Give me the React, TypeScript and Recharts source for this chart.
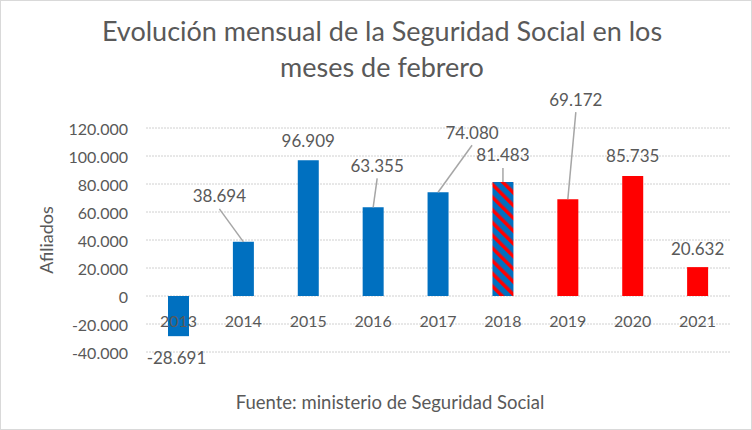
import { BarChart, Bar, Cell, XAxis, YAxis, CartesianGrid, LabelList } from 'recharts';

const years = ['2013', '2014', '2015', '2016', '2017', '2018', '2019', '2020', '2021'];
const afiliados = [-28691, 38694, 96909, 63355, 74080, 81483, 69172, 85735, 20632];
const yTicks = [-40000, -20000, 0, 20000, 40000, 60000, 80000, 100000, 120000];

const data = years.map((year, i) => ({ year, afiliados: afiliados[i] }));

const BLUE = '#0070C0';
const RED = '#FF0000';
const TEXT = '#595959';
const FONT = 'Lato, "Open Sans", sans-serif';

// colores de cada barra (2018 lleva rayado)
const barFills = [BLUE, BLUE, BLUE, BLUE, BLUE, 'url(#rayas2018)', RED, RED, RED];

// posicion de las etiquetas respecto al extremo de la barra
const labelPos = [
  { dx: -2, dy: 21, line: false },
  { dx: -24, dy: -46, line: true },
  { dx: 0, dy: -20, line: false },
  { dx: 4, dy: -42, line: true },
  { dx: 34, dy: -60, line: true },
  { dx: 0, dy: -27, line: true },
  { dx: 8, dy: -100, line: true },
  { dx: 0, dy: -20, line: false },
  { dx: 0, dy: -19, line: false },
];

const fmt = (v: number) => {
  const s = String(Math.abs(v)).replace(/\B(?=(\d{3})+(?!\d))/g, '.');
  return v < 0 ? '-' + s : s;
};

const renderLabel = (props: any) => {
  const { x, y, width, height, value, index } = props;
  const pos = labelPos[index];
  const cx = Number(x) + Number(width) / 2;
  const y1 = Number(y);
  const y2 = Number(y) + Number(height);
  const end = value >= 0 ? Math.min(y1, y2) : Math.max(y1, y2);
  const lx = cx + pos.dx;
  const ly = end + pos.dy;
  return (
    <g key={'lbl' + index}>
      {pos.line && (
        <line x1={lx} y1={ly + 13} x2={cx} y2={end} stroke="#a6a6a6" strokeWidth={1.5} />
      )}
      <text x={lx} y={ly} textAnchor="middle" dominantBaseline="central"
        fontFamily={FONT} fontSize={17} fill={TEXT}>
        {fmt(value)}
      </text>
    </g>
  );
};

const YearTick = (props: any) => {
  const { x, y, payload } = props;
  return (
    <text x={x} y={y - 32} textAnchor="middle" dominantBaseline="central"
      fontFamily={FONT} fontSize={16} fill={TEXT}>
      {payload.value}
    </text>
  );
};

const ValueTick = (props: any) => {
  const { x, y, payload } = props;
  return (
    <text x={x} y={y} textAnchor="end" dominantBaseline="central"
      fontFamily={FONT} fontSize={16} fill={TEXT}>
      {fmt(payload.value)}
    </text>
  );
};

export default function App() {
  return (
    <div style={{
      position: 'absolute', left: 0, top: 0, width: 752, height: 430,
      boxSizing: 'border-box', border: '1px solid #d9d9d9', background: '#fff',
    }}>
      <div style={{
        position: 'absolute', left: 0, top: 12, width: 762, textAlign: 'center',
        fontFamily: FONT, fontSize: 27, color: TEXT, lineHeight: '36px',
      }}>
        Evolución mensual de la Seguridad Social en los<br />meses de febrero
      </div>
      <div style={{
        position: 'absolute', left: 0, top: 390, width: 778, textAlign: 'center',
        fontFamily: FONT, fontSize: 18.5, color: TEXT,
      }}>
        Fuente: ministerio de Seguridad Social
      </div>
      <div style={{ position: 'absolute', left: -1, top: -1 }}>
        <BarChart width={752} height={430} data={data}
          margin={{ top: 128, right: 22, bottom: 77, left: 0 }}>
          <defs>
            <pattern id="rayas2018" patternUnits="userSpaceOnUse" width={9} height={9}
              patternTransform="rotate(-45)">
              <rect x={0} y={0} width={9} height={9} fill={BLUE} />
              <rect x={0} y={0} width={3.5} height={9} fill={RED} />
            </pattern>
          </defs>
          <CartesianGrid vertical={false} stroke="#d0d0d0" strokeDasharray="2 1" />
          <XAxis dataKey="year" axisLine={false} tickLine={false} tickSize={0} tickMargin={0}
            height={1} tick={YearTick} interval={0} />
          <YAxis domain={[-40000, 120000]} ticks={yTicks} width={146} axisLine={false}
            tickLine={false} tickSize={0} tickMargin={18} tick={<ValueTick />}
            label={{
              value: 'Afiliados', angle: -90, position: 'insideLeft', dx: 42,
              style: { fontFamily: FONT, fontSize: 18, fill: TEXT, textAnchor: 'middle' },
            }} />
          <Bar dataKey="afiliados" barSize={21} isAnimationActive={false}>
            {data.map((d, i) => (
              <Cell key={d.year} fill={barFills[i]} />
            ))}
            <LabelList dataKey="afiliados" content={renderLabel} />
          </Bar>
        </BarChart>
      </div>
    </div>
  );
}
